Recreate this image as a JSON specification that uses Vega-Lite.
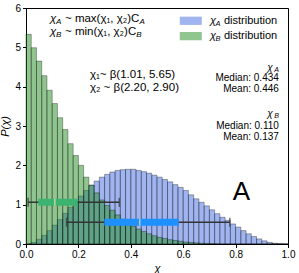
{
 "$schema": "https://vega.github.io/schema/vega-lite/v6.json",
 "width": 262, "height": 236,
 "autosize": {"type": "none"},
 "padding": {"left": 26, "top": 8, "right": 11, "bottom": 29},
 "background": "white",
 "config": {
  "view": {"stroke": "black", "strokeWidth": 1},
  "axis": {"grid": false, "domainColor": "black", "tickColor": "black", "tickSize": 3.5, "labelFont": "Liberation Sans", "labelFontSize": 10, "labelColor": "black", "labelOverlap": false, "labelFlush": false, "titleFont": "Liberation Sans", "titleFontWeight": "normal", "titleColor": "black", "titleFontSize": 11, "titleFontStyle": "italic", "labelPadding": 2},
  "axisY": {"tickCount": 7, "labelOverlap": false, "labelFlush": false},
  "axisX": {"tickCount": 6, "labelOverlap": false},
  "text": {"font": "Liberation Sans", "fontSize": 10, "color": "black"}
 },
 "datasets": {
  "hist": [
   {"lo":0.00,"hi":0.02,"chiA":0.01,"chiB":5.33},
   {"lo":0.02,"hi":0.04,"chiA":0.04,"chiB":4.99},
   {"lo":0.04,"hi":0.06,"chiA":0.12,"chiB":4.65},
   {"lo":0.06,"hi":0.08,"chiA":0.22,"chiB":4.28},
   {"lo":0.08,"hi":0.10,"chiA":0.34,"chiB":3.91},
   {"lo":0.10,"hi":0.12,"chiA":0.48,"chiB":3.57},
   {"lo":0.12,"hi":0.14,"chiA":0.62,"chiB":3.21},
   {"lo":0.14,"hi":0.16,"chiA":0.78,"chiB":2.91},
   {"lo":0.16,"hi":0.18,"chiA":0.93,"chiB":2.55},
   {"lo":0.18,"hi":0.20,"chiA":1.08,"chiB":2.25},
   {"lo":0.20,"hi":0.22,"chiA":1.22,"chiB":2.00},
   {"lo":0.22,"hi":0.24,"chiA":1.36,"chiB":1.70},
   {"lo":0.24,"hi":0.26,"chiA":1.50,"chiB":1.49},
   {"lo":0.26,"hi":0.28,"chiA":1.60,"chiB":1.30},
   {"lo":0.28,"hi":0.30,"chiA":1.70,"chiB":1.12},
   {"lo":0.30,"hi":0.32,"chiA":1.77,"chiB":0.98},
   {"lo":0.32,"hi":0.34,"chiA":1.83,"chiB":0.86},
   {"lo":0.34,"hi":0.36,"chiA":1.87,"chiB":0.74},
   {"lo":0.36,"hi":0.38,"chiA":1.89,"chiB":0.63},
   {"lo":0.38,"hi":0.40,"chiA":1.90,"chiB":0.53},
   {"lo":0.40,"hi":0.42,"chiA":1.90,"chiB":0.45},
   {"lo":0.42,"hi":0.44,"chiA":1.87,"chiB":0.38},
   {"lo":0.44,"hi":0.46,"chiA":1.84,"chiB":0.32},
   {"lo":0.46,"hi":0.48,"chiA":1.80,"chiB":0.26},
   {"lo":0.48,"hi":0.50,"chiA":1.75,"chiB":0.21},
   {"lo":0.50,"hi":0.52,"chiA":1.70,"chiB":0.17},
   {"lo":0.52,"hi":0.54,"chiA":1.64,"chiB":0.14},
   {"lo":0.54,"hi":0.56,"chiA":1.58,"chiB":0.11},
   {"lo":0.56,"hi":0.58,"chiA":1.51,"chiB":0.09},
   {"lo":0.58,"hi":0.60,"chiA":1.44,"chiB":0.07},
   {"lo":0.60,"hi":0.62,"chiA":1.36,"chiB":0.05},
   {"lo":0.62,"hi":0.64,"chiA":1.25,"chiB":0.04},
   {"lo":0.64,"hi":0.66,"chiA":1.15,"chiB":0.03},
   {"lo":0.66,"hi":0.68,"chiA":1.06,"chiB":0.02},
   {"lo":0.68,"hi":0.70,"chiA":0.97,"chiB":0.015},
   {"lo":0.70,"hi":0.72,"chiA":0.87,"chiB":0.01},
   {"lo":0.72,"hi":0.74,"chiA":0.77,"chiB":0.005},
   {"lo":0.74,"hi":0.76,"chiA":0.68,"chiB":0},
   {"lo":0.76,"hi":0.78,"chiA":0.60,"chiB":0},
   {"lo":0.78,"hi":0.80,"chiA":0.51,"chiB":0},
   {"lo":0.80,"hi":0.82,"chiA":0.43,"chiB":0},
   {"lo":0.82,"hi":0.84,"chiA":0.34,"chiB":0},
   {"lo":0.84,"hi":0.86,"chiA":0.26,"chiB":0},
   {"lo":0.86,"hi":0.88,"chiA":0.19,"chiB":0},
   {"lo":0.88,"hi":0.90,"chiA":0.13,"chiB":0},
   {"lo":0.90,"hi":0.92,"chiA":0.08,"chiB":0},
   {"lo":0.92,"hi":0.94,"chiA":0.04,"chiB":0},
   {"lo":0.94,"hi":0.96,"chiA":0.02,"chiB":0},
   {"lo":0.96,"hi":0.98,"chiA":0.01,"chiB":0},
   {"lo":0.98,"hi":1.00,"chiA":0.003,"chiB":0}
  ],
  "stats": [
   {"dist":"A","min":0.155,"q1":0.299,"median":0.434,"q3":0.583,"max":0.778},
   {"dist":"B","min":0.008,"q1":0.047,"median":0.110,"q3":0.197,"max":0.356}
  ],
  "one": [{}]
 },
 "layer": [
  {
   "data": {"name": "hist"},
   "mark": {"type": "rect", "fill": "#4169e1", "fillOpacity": 0.5, "stroke": "black", "strokeOpacity": 0.4, "strokeWidth": 0.8},
   "encoding": {
    "x": {"field": "lo", "type": "quantitative", "scale": {"domain": [0, 1], "nice": false}, "axis": {"title": "χ", "titlePadding": 3}},
    "x2": {"field": "hi"},
    "y": {"field": "chiA", "type": "quantitative", "scale": {"domain": [0, 6], "nice": false}, "axis": {"title": "P(χ)", "titlePadding": 4}},
    "y2": {"datum": 0}
   }
  },
  {
   "data": {"name": "hist"},
   "mark": {"type": "rect", "fill": "#228b22", "fillOpacity": 0.5, "stroke": "black", "strokeOpacity": 0.4, "strokeWidth": 0.8},
   "encoding": {
    "x": {"field": "lo", "type": "quantitative"},
    "x2": {"field": "hi"},
    "y": {"field": "chiB", "type": "quantitative"},
    "y2": {"datum": 0}
   }
  },
  {
   "data": {"name": "stats"},
   "transform": [{"filter": "datum.dist === 'B'"}],
   "layer": [
    {"mark": {"type": "rule", "color": "#333333", "strokeWidth": 1.5}, "encoding": {"x": {"field": "min", "type": "quantitative"}, "x2": {"field": "max"}, "y": {"datum": 1.06}}},
    {"mark": {"type": "tick", "orient": "vertical", "color": "#333333", "thickness": 1.5, "size": 9}, "encoding": {"x": {"field": "min", "type": "quantitative"}, "y": {"datum": 1.06}}},
    {"mark": {"type": "tick", "orient": "vertical", "color": "#333333", "thickness": 1.5, "size": 9}, "encoding": {"x": {"field": "max", "type": "quantitative"}, "y": {"datum": 1.06}}},
    {"mark": {"type": "rule", "color": "#3cb371", "strokeWidth": 7, "strokeCap": "butt"}, "encoding": {"x": {"field": "q1", "type": "quantitative"}, "x2": {"field": "q3"}, "y": {"datum": 1.06}}},
    {"mark": {"type": "tick", "orient": "vertical", "color": "#f5e6b0", "thickness": 1.5, "size": 7}, "encoding": {"x": {"field": "median", "type": "quantitative"}, "y": {"datum": 1.06}}}
   ]
  },
  {
   "data": {"name": "stats"},
   "transform": [{"filter": "datum.dist === 'A'"}],
   "layer": [
    {"mark": {"type": "rule", "color": "#333333", "strokeWidth": 1.5}, "encoding": {"x": {"field": "min", "type": "quantitative"}, "x2": {"field": "max"}, "y": {"datum": 0.555}}},
    {"mark": {"type": "tick", "orient": "vertical", "color": "#333333", "thickness": 1.5, "size": 9}, "encoding": {"x": {"field": "min", "type": "quantitative"}, "y": {"datum": 0.555}}},
    {"mark": {"type": "tick", "orient": "vertical", "color": "#333333", "thickness": 1.5, "size": 9}, "encoding": {"x": {"field": "max", "type": "quantitative"}, "y": {"datum": 0.555}}},
    {"mark": {"type": "rule", "color": "#1e90ff", "strokeWidth": 7, "strokeCap": "butt"}, "encoding": {"x": {"field": "q1", "type": "quantitative"}, "x2": {"field": "q3"}, "y": {"datum": 0.555}}},
    {"mark": {"type": "tick", "orient": "vertical", "color": "#f5e6b0", "thickness": 1.5, "size": 7}, "encoding": {"x": {"field": "median", "type": "quantitative"}, "y": {"datum": 0.555}}}
   ]
  },
  {
   "data": {"name": "one"},
   "layer": [
    {"mark": {"type": "rect", "fill": "#4169e1", "fillOpacity": 0.5}, "encoding": {"x": {"datum": 0.587}, "x2": {"datum": 0.671}, "y": {"datum": 5.78}, "y2": {"datum": 5.57}}},
    {"mark": {"type": "rect", "fill": "#228b22", "fillOpacity": 0.5}, "encoding": {"x": {"datum": 0.587}, "x2": {"datum": 0.671}, "y": {"datum": 5.39}, "y2": {"datum": 5.18}}},
    {"mark": {"type": "text", "text": "χ", "fontStyle": "italic", "fontSize": 11, "align": "left", "baseline": "middle"}, "encoding": {"x": {"datum": 0.702}, "y": {"datum": 5.675}}},
    {"mark": {"type": "text", "text": "A", "fontStyle": "italic", "fontSize": 7.5, "align": "left", "baseline": "middle", "dx": 5.5, "dy": 3}, "encoding": {"x": {"datum": 0.702}, "y": {"datum": 5.675}}},
    {"mark": {"type": "text", "text": "distribution", "fontSize": 11, "align": "left", "baseline": "middle", "dx": 14}, "encoding": {"x": {"datum": 0.702}, "y": {"datum": 5.675}}},
    {"mark": {"type": "text", "text": "χ", "fontStyle": "italic", "fontSize": 11, "align": "left", "baseline": "middle"}, "encoding": {"x": {"datum": 0.702}, "y": {"datum": 5.285}}},
    {"mark": {"type": "text", "text": "B", "fontStyle": "italic", "fontSize": 7.5, "align": "left", "baseline": "middle", "dx": 5.5, "dy": 3}, "encoding": {"x": {"datum": 0.702}, "y": {"datum": 5.285}}},
    {"mark": {"type": "text", "text": "distribution", "fontSize": 11, "align": "left", "baseline": "middle", "dx": 14}, "encoding": {"x": {"datum": 0.702}, "y": {"datum": 5.285}}},

    {"mark": {"type": "text", "text": "χ", "fontStyle": "italic", "fontSize": 11.5, "align": "left", "baseline": "middle"}, "encoding": {"x": {"datum": 0.0915}, "y": {"datum": 5.72}}},
    {"mark": {"type": "text", "text": "A", "fontStyle": "italic", "fontSize": 8, "align": "left", "baseline": "middle", "dx": 6.1, "dy": 3.3}, "encoding": {"x": {"datum": 0.0915}, "y": {"datum": 5.72}}},
    {"mark": {"type": "text", "text": "~ max(χ₁, χ₂)C", "fontSize": 11.5, "align": "left", "baseline": "middle", "dx": 15}, "encoding": {"x": {"datum": 0.0915}, "y": {"datum": 5.72}}},
    {"mark": {"type": "text", "text": "A", "fontStyle": "italic", "fontSize": 8, "align": "left", "baseline": "middle", "dx": 89.5, "dy": 3.3}, "encoding": {"x": {"datum": 0.0915}, "y": {"datum": 5.72}}},
    {"mark": {"type": "text", "text": "χ", "fontStyle": "italic", "fontSize": 11.5, "align": "left", "baseline": "middle"}, "encoding": {"x": {"datum": 0.0915}, "y": {"datum": 5.39}}},
    {"mark": {"type": "text", "text": "B", "fontStyle": "italic", "fontSize": 8, "align": "left", "baseline": "middle", "dx": 6.1, "dy": 3.3}, "encoding": {"x": {"datum": 0.0915}, "y": {"datum": 5.39}}},
    {"mark": {"type": "text", "text": "~ min(χ₁, χ₂)C", "fontSize": 11.5, "align": "left", "baseline": "middle", "dx": 15}, "encoding": {"x": {"datum": 0.0915}, "y": {"datum": 5.39}}},
    {"mark": {"type": "text", "text": "B", "fontStyle": "italic", "fontSize": 8, "align": "left", "baseline": "middle", "dx": 86.3, "dy": 3.3}, "encoding": {"x": {"datum": 0.0915}, "y": {"datum": 5.39}}},

    {"mark": {"type": "text", "text": "χ₁~ β(1.01, 5.65)", "fontSize": 11.5, "align": "left", "baseline": "middle"}, "encoding": {"x": {"datum": 0.244}, "y": {"datum": 4.30}}},
    {"mark": {"type": "text", "text": "χ₂ ~ β(2.20, 2.90)", "fontSize": 11.5, "align": "left", "baseline": "middle"}, "encoding": {"x": {"datum": 0.244}, "y": {"datum": 3.97}}},

    {"mark": {"type": "text", "text": "χ", "fontStyle": "italic", "align": "right", "baseline": "middle", "dx": -6}, "encoding": {"x": {"datum": 0.965}, "y": {"datum": 4.48}}},
    {"mark": {"type": "text", "text": "A", "fontStyle": "italic", "fontSize": 7, "align": "right", "baseline": "middle", "dy": 2.5}, "encoding": {"x": {"datum": 0.965}, "y": {"datum": 4.48}}},
    {"mark": {"type": "text", "text": "Median: 0.434", "align": "right", "baseline": "middle"}, "encoding": {"x": {"datum": 0.965}, "y": {"datum": 4.21}}},
    {"mark": {"type": "text", "text": "Mean: 0.446", "align": "right", "baseline": "middle"}, "encoding": {"x": {"datum": 0.965}, "y": {"datum": 3.95}}},
    {"mark": {"type": "text", "text": "χ", "fontStyle": "italic", "align": "right", "baseline": "middle", "dx": -6}, "encoding": {"x": {"datum": 0.965}, "y": {"datum": 3.31}}},
    {"mark": {"type": "text", "text": "B", "fontStyle": "italic", "fontSize": 7, "align": "right", "baseline": "middle", "dy": 2.5}, "encoding": {"x": {"datum": 0.965}, "y": {"datum": 3.31}}},
    {"mark": {"type": "text", "text": "Median: 0.110", "align": "right", "baseline": "middle"}, "encoding": {"x": {"datum": 0.965}, "y": {"datum": 3.0}}},
    {"mark": {"type": "text", "text": "Mean: 0.137", "align": "right", "baseline": "middle"}, "encoding": {"x": {"datum": 0.965}, "y": {"datum": 2.72}}},

    {"mark": {"type": "text", "text": "A", "fontSize": 26, "align": "center", "baseline": "middle"}, "encoding": {"x": {"datum": 0.822}, "y": {"datum": 1.32}}}
   ]
  }
 ]
}
